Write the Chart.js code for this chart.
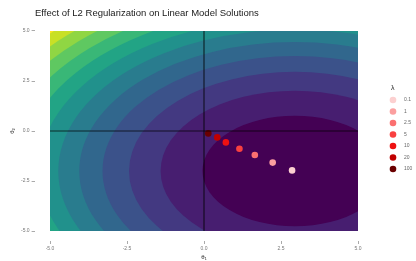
<!DOCTYPE html>
<html>
<head>
<meta charset="utf-8">
<script src="https://cdn.jsdelivr.net/npm/chart.js@4.4.1/dist/chart.umd.min.js"></script>
<style>
  html, body { margin: 0; padding: 0; background: #fff; }
  #wrap { width: 416px; height: 261px; }
</style>
</head>
<body>
<div id="wrap"><canvas id="chart"></canvas></div>
<script>
// ridge solutions for each lambda
const lambdaLabels = ['0.1', '1', '2.5', '5', '10', '20', '100'];
const theta1 = [2.86, 2.23, 1.65, 1.15, 0.71, 0.43, 0.14];
const theta2 = [-1.97, -1.58, -1.20, -0.89, -0.57, -0.32, -0.12];
const lambdaColors = ['#fcd0d0', '#fb9f9f', '#fb7070', '#f94040', '#ee1111', '#c00000', '#6a0000'];

// axis ticks
const axisTicks = [-5, -2.5, 0, 2.5, 5];
const gridRange = [-5, 5];

// loss surface: (t1 - c1)^2 + w * (t2 - c2)^2, contour break values
const lossCenter = [2.95, -2.0];
const lossWeightY = 1.18;
const contourLevels = [9, 19, 29, 39, 49, 59, 69, 79, 89, 99, 109, 119];

const viridisStops = ['#440154', '#482475', '#414487', '#355f8d', '#2a788e', '#21918c',
                      '#22a884', '#44bf70', '#7ad151', '#bddf26', '#fde725'];

function hexToRgb(h) {
  return [parseInt(h.slice(1, 3), 16), parseInt(h.slice(3, 5), 16), parseInt(h.slice(5, 7), 16)];
}
function viridis(t) {
  const p = t * (viridisStops.length - 1);
  const i = Math.min(Math.floor(p), viridisStops.length - 2);
  const f = p - i;
  const a = hexToRgb(viridisStops[i]), b = hexToRgb(viridisStops[i + 1]);
  const c = a.map((v, k) => Math.round(v + (b[k] - v) * f));
  return `rgb(${c[0]},${c[1]},${c[2]})`;
}
const bandColors = [];
for (let k = 0; k <= contourLevels.length; k++) bandColors.push(viridis(k / contourLevels.length));

const FONT = '"Liberation Sans", Arial, sans-serif';

const contourPlugin = {
  id: 'contour',
  beforeDatasetsDraw(chart) {
    const { ctx, scales: { x, y } } = chart;
    const left = x.getPixelForValue(gridRange[0]), right = x.getPixelForValue(gridRange[1]);
    const top = y.getPixelForValue(gridRange[1]), bottom = y.getPixelForValue(gridRange[0]);
    const cx = x.getPixelForValue(lossCenter[0]), cy = y.getPixelForValue(lossCenter[1]);
    ctx.save();
    ctx.beginPath();
    ctx.rect(left, top, right - left, bottom - top);
    ctx.clip();
    ctx.fillStyle = bandColors[contourLevels.length];
    ctx.fillRect(left, top, right - left, bottom - top);
    for (let k = contourLevels.length - 1; k >= 0; k--) {
      const rx = Math.sqrt(contourLevels[k]);
      const ry = Math.sqrt(contourLevels[k] / lossWeightY);
      const rxPx = Math.abs(x.getPixelForValue(lossCenter[0] + rx) - cx);
      const ryPx = Math.abs(y.getPixelForValue(lossCenter[1] + ry) - cy);
      ctx.beginPath();
      ctx.ellipse(cx, cy, rxPx, ryPx, 0, 0, Math.PI * 2);
      ctx.fillStyle = bandColors[k];
      ctx.fill();
    }
    ctx.restore();
  }
};

const decorPlugin = {
  id: 'decor',
  afterDraw(chart) {
    const ctx = chart.ctx;
    ctx.save();
    // title
    ctx.fillStyle = '#1a1a1a';
    ctx.font = '9.5px ' + FONT;
    ctx.textAlign = 'left';
    ctx.textBaseline = 'middle';
    ctx.fillText('Effect of L2 Regularization on Linear Model Solutions', 35, 13);
    // legend
    const lx = 393, ly0 = 100, step = 11.5;
    ctx.font = '7px ' + FONT;
    ctx.fillStyle = '#1a1a1a';
    ctx.fillText('λ', lx - 2, ly0 - 12);
    ctx.font = '5px ' + FONT;
    lambdaLabels.forEach((lab, i) => {
      const yy = ly0 + i * step;
      ctx.beginPath();
      ctx.arc(lx, yy, 3.3, 0, Math.PI * 2);
      ctx.fillStyle = lambdaColors[i];
      ctx.fill();
      ctx.fillStyle = '#666';
      ctx.fillText(lab, lx + 11, yy);
    });
    ctx.restore();
  }
};

function fixedTicks(scale) {
  scale.ticks = axisTicks.map(v => ({ value: v }));
}

const tickFont = { family: FONT, size: 5 };

new Chart(document.getElementById('chart'), {
  data: {
    datasets: [
      {
        type: 'line',
        data: [{ x: 0, y: gridRange[0] }, { x: 0, y: gridRange[1] }],
        borderColor: 'rgba(0,0,0,0.7)',
        borderWidth: 1.2,
        pointRadius: 0
      },
      {
        type: 'line',
        data: [{ x: gridRange[0], y: 0 }, { x: gridRange[1], y: 0 }],
        borderColor: 'rgba(0,0,0,0.7)',
        borderWidth: 1.2,
        pointRadius: 0
      },
      {
        type: 'scatter',
        data: theta1.map((v, i) => ({ x: v, y: theta2[i] })),
        pointBackgroundColor: lambdaColors,
        pointBorderWidth: 0,
        pointRadius: 3.3
      }
    ]
  },
  options: {
    responsive: true,
    maintainAspectRatio: false,
    animation: false,
    devicePixelRatio: 1,
    layout: { padding: { top: 21, right: 42.6, bottom: 0, left: 0 } },
    plugins: {
      legend: { display: false },
      title: { display: false },
      tooltip: { enabled: false }
    },
    scales: {
      x: {
        type: 'linear',
        min: -5.5,
        max: 5.5,
        afterBuildTicks: fixedTicks,
        afterFit: s => { s.height = 20; },
        ticks: { font: tickFont, color: '#777', padding: 2, callback: v => v.toFixed(1) },
        grid: { drawOnChartArea: false, tickLength: 3, color: '#aaa' },
        border: { display: false },
        title: { display: true, text: 'θ₁', font: { family: FONT, size: 6 }, color: '#1a1a1a', padding: 0 }
      },
      y: {
        type: 'linear',
        min: -5.5,
        max: 5.5,
        afterBuildTicks: fixedTicks,
        afterFit: s => { s.width = 34.6; },
        ticks: { font: tickFont, color: '#777', padding: 2, callback: v => v.toFixed(1) },
        grid: { drawOnChartArea: false, tickLength: 3, color: '#aaa' },
        border: { display: false },
        title: { display: true, text: 'θ₂', font: { family: FONT, size: 6 }, color: '#1a1a1a', padding: 9 }
      }
    }
  },
  plugins: [contourPlugin, decorPlugin]
});
</script>
</body>
</html>
